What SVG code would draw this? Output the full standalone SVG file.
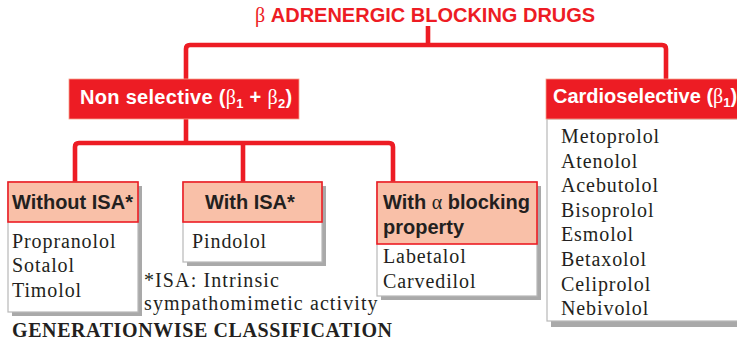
<svg xmlns="http://www.w3.org/2000/svg" width="737" height="345" viewBox="0 0 737 345">
<style>
.conn{fill:none;stroke:#ed1c24;stroke-width:4.6;stroke-linejoin:round}
.redbox{fill:#ed1c24;stroke:#f4a08c;stroke-width:0.8}
.hdr{fill:#f9c0a8;stroke:#ed1c24;stroke-width:1.6}
.body{fill:#ffffff;stroke:#b8b8b8;stroke-width:1.2}
.shadow{fill:#a9a9a9}
.wt{font-family:"Liberation Sans",Arial,sans-serif;font-weight:bold;font-size:20px;fill:#ffffff;letter-spacing:0.3px}
.ht{font-family:"Liberation Sans",Arial,sans-serif;font-weight:bold;font-size:20px;fill:#231f20}
.bt{font-family:"Liberation Serif","Times New Roman",serif;font-size:20px;fill:#231f20;letter-spacing:0.9px}
.sym{font-family:"Liberation Serif","Times New Roman",serif;font-weight:normal}
.title{font-family:"Liberation Sans",Arial,sans-serif;font-weight:bold;font-size:20px;fill:#ed1c24}
</style>
<rect width="737" height="345" fill="#ffffff"/>
<g id="connectors">
<path class="conn" d="M428,26 V45"/>
<path class="conn" d="M186,80 V49 Q186,45 190,45 H662 Q666,45 666,49 V80"/>
<path class="conn" d="M186,118 V143"/>
<path class="conn" d="M75,183 V147 Q75,143 79,143 H389 Q393,143 393,147 V183"/>
<path class="conn" d="M243,143 V183"/>
</g>
<g id="title">
<text class="title" x="255" y="22"><tspan class="sym">β</tspan> ADRENERGIC BLOCKING DRUGS</text>
</g>
<g id="nonselective">
<rect class="redbox" x="69" y="79" width="230" height="40"/>
<text class="wt" x="80" y="104">Non selective (<tspan class="sym">β</tspan><tspan font-size="13" dy="4">1</tspan><tspan dy="-4"> + </tspan><tspan class="sym">β</tspan><tspan font-size="13" dy="4">2</tspan><tspan dy="-4">)</tspan></text>
</g>
<g id="cardioselective">
<rect class="shadow" x="551" y="123" width="200" height="204"/>
<rect class="body" x="547" y="119" width="200" height="202"/>
<rect class="redbox" x="546" y="79" width="200" height="40"/>
<text class="wt" x="553" y="103" style="letter-spacing:0px">Cardioselective (<tspan class="sym">β</tspan><tspan font-size="13" dy="4">1</tspan><tspan dy="-4">)</tspan></text>
<text class="bt" x="561" y="143">Metoprolol</text>
<text class="bt" x="561" y="167.6">Atenolol</text>
<text class="bt" x="561" y="192.2">Acebutolol</text>
<text class="bt" x="561" y="216.8">Bisoprolol</text>
<text class="bt" x="561" y="241.4">Esmolol</text>
<text class="bt" x="561" y="266">Betaxolol</text>
<text class="bt" x="561" y="290.6">Celiprolol</text>
<text class="bt" x="561" y="315">Nebivolol</text>
</g>
<g id="without-isa">
<rect class="shadow" x="12" y="186" width="130" height="130"/>
<rect class="body" x="8" y="182" width="130" height="130"/>
<rect class="hdr" x="8" y="182" width="130" height="40"/>
<text class="ht" x="12" y="209">Without ISA*</text>
<text class="bt" x="12" y="248">Propranolol</text>
<text class="bt" x="12" y="272">Sotalol</text>
<text class="bt" x="12" y="296.5">Timolol</text>
</g>
<g id="with-isa">
<rect class="shadow" x="187" y="186" width="139" height="80"/>
<rect class="body" x="183" y="182" width="139" height="80"/>
<rect class="hdr" x="183" y="182" width="139" height="40"/>
<text class="ht" x="205" y="209">With ISA*</text>
<text class="bt" x="192" y="248">Pindolol</text>
</g>
<g id="with-alpha">
<rect class="shadow" x="381" y="186" width="160" height="114"/>
<rect class="body" x="377" y="182" width="160" height="114"/>
<rect class="hdr" x="377" y="182" width="160" height="62"/>
<text class="ht" x="383" y="209">With <tspan class="sym">α</tspan> blocking</text>
<text class="ht" x="383" y="234">property</text>
<text class="bt" x="383" y="263">Labetalol</text>
<text class="bt" x="383" y="288">Carvedilol</text>
</g>
<g id="footnote">
<text class="bt" x="144" y="286.5" style="letter-spacing:1.1px">*ISA: Intrinsic</text>
<text class="bt" x="144" y="310" style="letter-spacing:1.1px">sympathomimetic activity</text>
</g>
<g id="caption">
<text x="12" y="337" font-family="'Liberation Serif','Times New Roman',serif" font-weight="bold" font-size="20px" letter-spacing="0.6px" fill="#231f20">GENERATIONWISE CLASSIFICATION</text>
</g>
</svg>
